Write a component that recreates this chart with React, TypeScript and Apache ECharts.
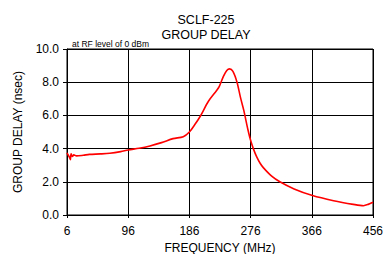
import React, { useEffect, useRef } from "react";
import * as echarts from "echarts";

const freqMHz = [6, 8, 10, 11, 12, 14, 16, 20, 30, 39, 55, 69, 85, 96, 112, 128, 145, 162, 177, 186, 194, 202, 214, 226, 230, 236, 241, 245, 250, 256, 261, 266, 272, 276, 280, 285, 290, 295, 307, 319, 340, 367, 398, 427, 442, 449, 456];
const delayNs = [3.74, 3.6, 3.45, 3.33, 3.68, 3.52, 3.62, 3.56, 3.6, 3.65, 3.68, 3.72, 3.82, 3.92, 4.02, 4.16, 4.36, 4.6, 4.72, 5.0, 5.45, 5.95, 6.85, 7.5, 7.75, 8.35, 8.7, 8.8, 8.65, 8.0, 7.1, 6.3, 5.15, 4.5, 4.0, 3.5, 3.12, 2.84, 2.34, 2.0, 1.57, 1.17, 0.86, 0.64, 0.56, 0.64, 0.77];
const titleLines = ["SCLF-225", "GROUP DELAY"];
const noteText = "at RF level of 0 dBm";

export default function App() {
  const ref = useRef<HTMLDivElement>(null);
  useEffect(() => {
    const chart = echarts.init(ref.current!, null, { renderer: "svg" });
    const font = "Liberation Sans, Arial, sans-serif";
    chart.setOption({
      animation: false,
      textStyle: { fontFamily: font },
      title: [
        { text: titleLines[0], left: 201, top: 8, textAlign: "center", textStyle: { fontSize: 12.5, fontWeight: "normal", fontFamily: font, color: "#000" } },
        { text: titleLines[1], left: 201, top: 23, textAlign: "center", textStyle: { fontSize: 12.5, fontWeight: "normal", fontFamily: font, color: "#000" } },
        { text: noteText, left: 67, top: 34, textStyle: { fontSize: 8.5, fontWeight: "normal", fontFamily: font, color: "#000" } },
      ],
      grid: { left: 67, right: 10, top: 49, bottom: 39, show: true, borderColor: "#000", borderWidth: 1, outerBoundsMode: "none", containLabel: false },
      xAxis: {
        type: "value",
        min: 6,
        max: 456,
        interval: 90,
        name: "FREQUENCY (MHz)",
        nameLocation: "middle",
        nameGap: 26,
        nameTextStyle: { fontSize: 12, color: "#000", fontFamily: font },
        axisLine: { show: true, lineStyle: { color: "#000", width: 1 } },
        axisTick: { show: true, inside: false, length: 3, lineStyle: { color: "#000" } },
        axisLabel: { fontSize: 12, color: "#000", margin: 10, fontFamily: font },
        splitLine: { show: true, lineStyle: { color: "#000", width: 1 } },
      },
      yAxis: {
        type: "value",
        min: 0,
        max: 10,
        interval: 2,
        name: "GROUP DELAY (nsec)",
        nameLocation: "middle",
        nameGap: 43,
        nameTextStyle: { fontSize: 12, color: "#000", fontFamily: font },
        axisLine: { show: true, lineStyle: { color: "#000", width: 1 } },
        axisTick: { show: true, inside: false, length: 4, lineStyle: { color: "#000" } },
        axisLabel: { fontSize: 12, color: "#000", margin: 8, fontFamily: font, formatter: (v: number) => v.toFixed(1) },
        splitLine: { show: true, lineStyle: { color: "#000", width: 1 } },
      },
      series: [
        {
          type: "line",
          data: freqMHz.map((f, i) => [f, delayNs[i]]),
          showSymbol: false,
          smooth: 0.3,
          lineStyle: { color: "#ff0000", width: 1.6 },
          itemStyle: { color: "#ff0000" },
        },
      ],
    });
    return () => chart.dispose();
  }, []);
  return <div ref={ref} style={{ width: 383, height: 254, position: "absolute", left: 0, top: 0 }} />;
}
